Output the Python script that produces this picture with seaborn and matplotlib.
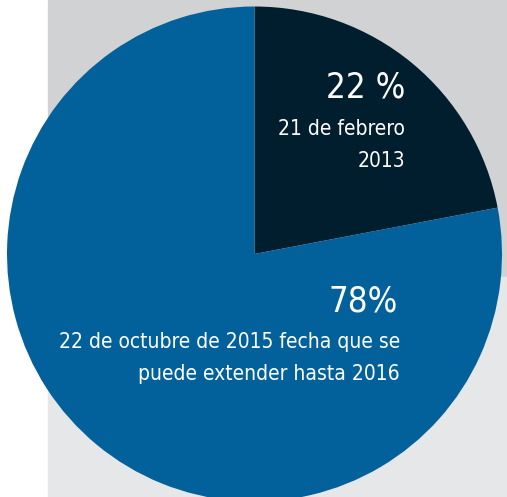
import matplotlib
matplotlib.use("Agg")
import matplotlib.pyplot as plt
from matplotlib.patches import Rectangle
import seaborn as sns

# data
labels = ["21 de febrero\n2013", "22 de octubre de 2015 fecha que se\npuede extender hasta 2016"]
shares = [22, 78]
pct_labels = ["22 %", "78%"]
colors = ["#011E2F", "#02619B"]

sns.set_theme(style="white")
plt.rcParams['font.family'] = ['DejaVu Sans']
plt.rcParams['font.stretch'] = 'condensed'

W, H = 507, 497
fig = plt.figure(figsize=(W / 100, H / 100), dpi=100)
ax = fig.add_axes([0, 0, 1, 1])

# grey panels behind the pie
ax.add_patch(Rectangle((48, H - 277), W - 48, 277, color="#D1D2D4", zorder=0))
ax.add_patch(Rectangle((48, 0), W - 48, H - 277, color="#E6E7E9", zorder=0))

ax.pie(shares, colors=colors, startangle=90, counterclock=False,
       center=(254.5, H - 254), radius=247.5, frame=True,
       wedgeprops=dict(linewidth=0))
ax.set_xlim(0, W)
ax.set_ylim(0, H)
ax.set_aspect('equal')
ax.axis('off')

# labels, right aligned
txt = dict(color="white", ha="right", va="baseline", fontstretch="condensed")
big, small = 25, 15
ax.text(405, H - 98, pct_labels[0], fontsize=big, **txt)
ax.text(405, H - 135, labels[0].split("\n")[0], fontsize=small, **txt)
ax.text(405, H - 167, labels[0].split("\n")[1], fontsize=small, **txt)

ax.text(398, H - 312, pct_labels[1], fontsize=big, **txt)
ax.text(400, H - 348, labels[1].split("\n")[0], fontsize=small, **txt)
ax.text(400, H - 380, labels[1].split("\n")[1], fontsize=small, **txt)

fig.savefig("out.png", dpi=100)
